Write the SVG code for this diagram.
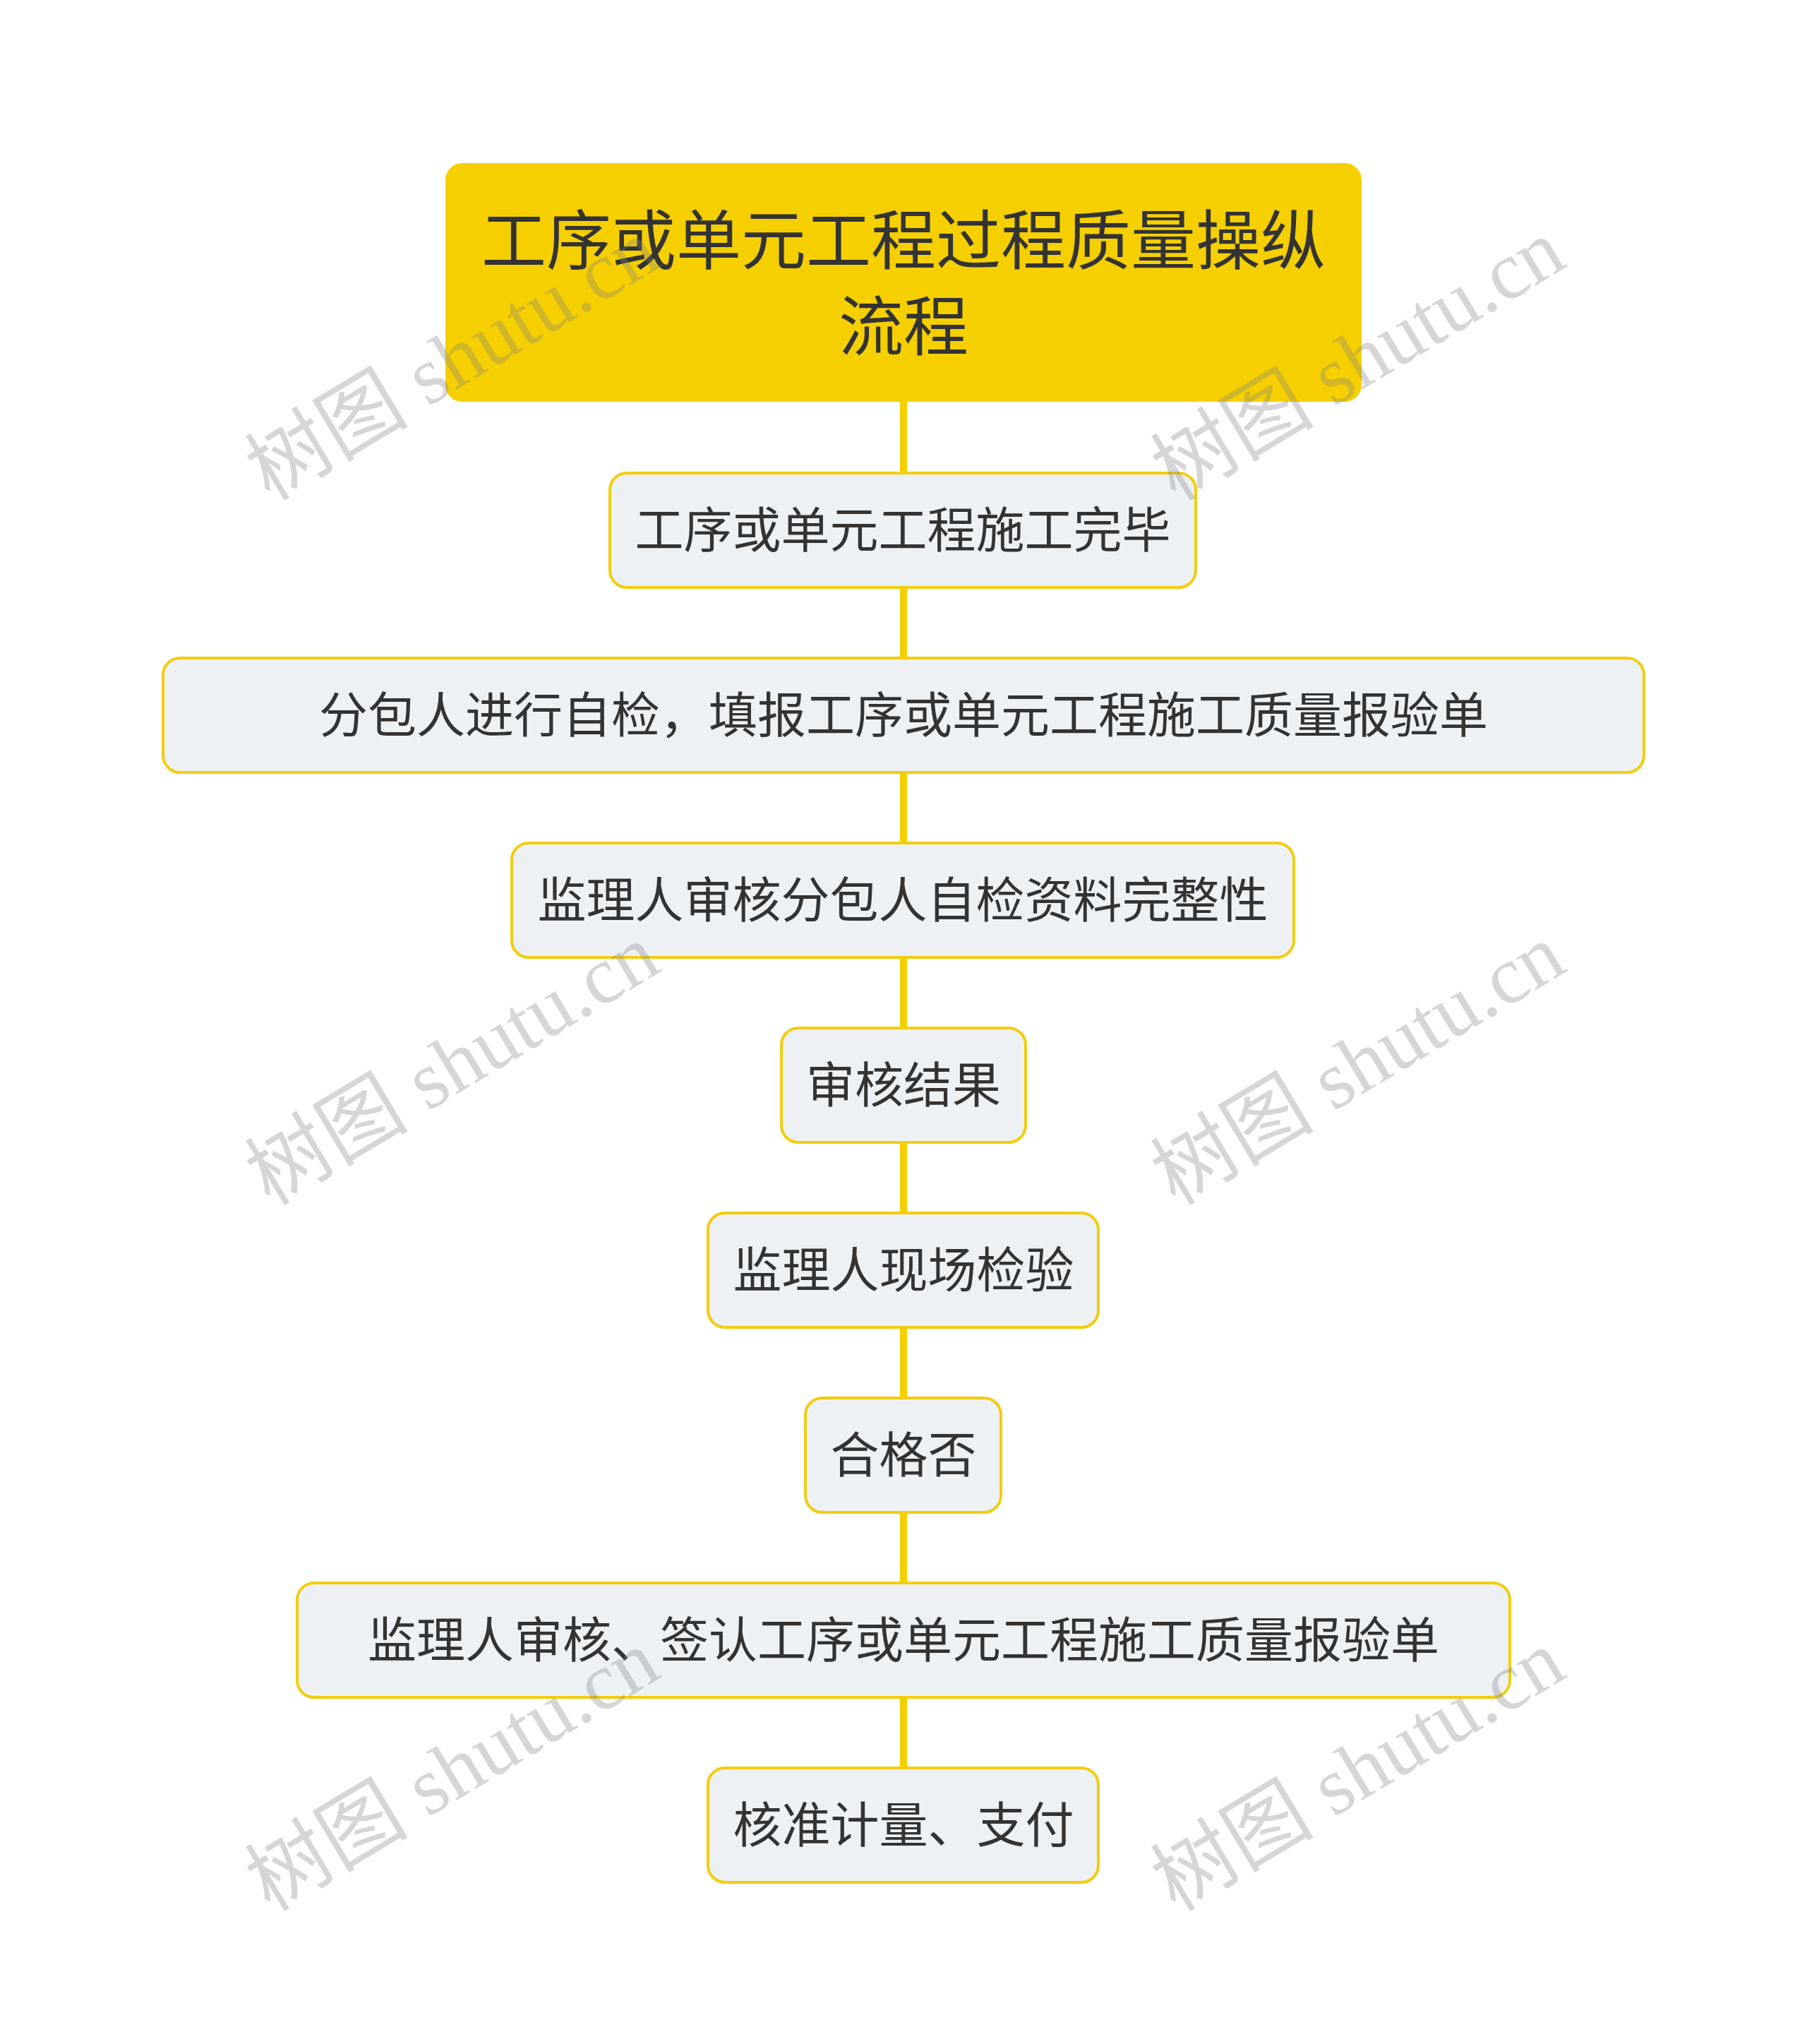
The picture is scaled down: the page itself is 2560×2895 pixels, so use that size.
<svg xmlns="http://www.w3.org/2000/svg" width="2560" height="2895" viewBox="0 0 2560 2895">
<style>
.bg{fill:#ffffff}
.root{fill:#f5cf00}
.node{fill:#eef1f4;stroke:#f2cd10;stroke-width:4}
.conn{stroke:#f5cf00;stroke-width:10;fill:none}
.t{font-family:"Noto Sans CJK SC","Noto Sans",sans-serif;fill:#333333;text-anchor:middle;dominant-baseline:central}
.rt{font-size:92px}
.nt{font-size:69px}
.wm{font-family:"Liberation Serif","Noto Sans CJK SC",serif;font-size:116px;fill:#808080;fill-opacity:0.32;text-anchor:middle;dominant-baseline:central}
</style>
<rect class="bg" x="0" y="0" width="2560" height="2895"/>
<g id="connectors">
<line class="conn" x1="1280" y1="565" x2="1280" y2="672"/>
<line class="conn" x1="1280" y1="830" x2="1280" y2="934"/>
<line class="conn" x1="1280" y1="1092" x2="1280" y2="1196"/>
<line class="conn" x1="1280" y1="1354" x2="1280" y2="1458"/>
<line class="conn" x1="1280" y1="1616" x2="1280" y2="1720"/>
<line class="conn" x1="1280" y1="1878" x2="1280" y2="1982"/>
<line class="conn" x1="1280" y1="2140" x2="1280" y2="2244"/>
<line class="conn" x1="1280" y1="2402" x2="1280" y2="2506"/>
</g>
<g id="root">
<rect class="root" x="631" y="231" width="1298" height="338" rx="24"/>
<text class="t rt" x="1280" y="333">工序或单元工程过程质量操纵</text>
<text class="t rt" x="1280" y="455">流程</text>
</g>
<g id="n1">
<rect class="node" x="864" y="670" width="830" height="162" rx="24"/>
<text class="t nt" x="1279" y="746">工序或单元工程施工完毕</text>
</g>
<g id="n2">
<rect class="node" x="231" y="932" width="2098" height="162" rx="24"/>
<text class="t nt" x="1280" y="1008">分包人进行自检，填报工序或单元工程施工质量报验单</text>
</g>
<g id="n3">
<rect class="node" x="725" y="1194" width="1108" height="162" rx="24"/>
<text class="t nt" x="1279" y="1270">监理人审核分包人自检资料完整性</text>
</g>
<g id="n4">
<rect class="node" x="1107" y="1456" width="346" height="162" rx="24"/>
<text class="t nt" x="1280" y="1532">审核结果</text>
</g>
<g id="n5">
<rect class="node" x="1003" y="1718" width="553" height="162" rx="24"/>
<text class="t nt" x="1280" y="1794">监理人现场检验</text>
</g>
<g id="n6">
<rect class="node" x="1141" y="1980" width="277" height="162" rx="24"/>
<text class="t nt" x="1280" y="2056">合格否</text>
</g>
<g id="n7">
<rect class="node" x="421" y="2242" width="1718" height="162" rx="24"/>
<text class="t nt" x="1280" y="2318">监理人审核、签认工序或单元工程施工质量报验单</text>
</g>
<g id="n8">
<rect class="node" x="1003" y="2504" width="553" height="162" rx="24"/>
<text class="t nt" x="1280" y="2580">核准计量、支付</text>
</g>
<g id="watermarks">
<text class="wm" transform="translate(641 510) rotate(-31)">树图 shutu.cn</text>
<text class="wm" transform="translate(1924 510) rotate(-31)">树图 shutu.cn</text>
<text class="wm" transform="translate(641 1508) rotate(-31)">树图 shutu.cn</text>
<text class="wm" transform="translate(1924 1508) rotate(-31)">树图 shutu.cn</text>
<text class="wm" transform="translate(641 2508) rotate(-31)">树图 shutu.cn</text>
<text class="wm" transform="translate(1924 2508) rotate(-31)">树图 shutu.cn</text>
</g>
</svg>
